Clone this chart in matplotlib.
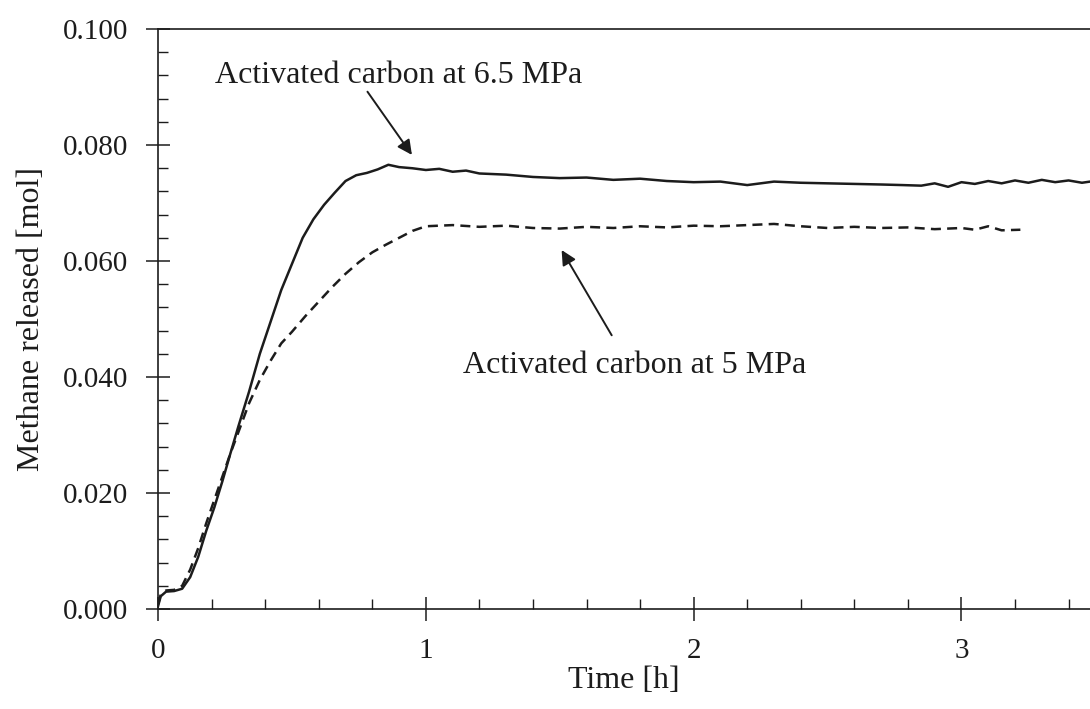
import matplotlib.pyplot as plt
from matplotlib.ticker import MultipleLocator, FormatStrFormatter

plt.rcParams['font.family'] = ['Liberation Serif', 'DejaVu Serif']

# 6.5 MPa run (solid)
t_65 = [0.0, 0.01, 0.03, 0.06, 0.09, 0.12, 0.15, 0.18, 0.21, 0.24, 0.27, 0.30,
        0.34, 0.38, 0.42, 0.46, 0.50, 0.54, 0.58, 0.62, 0.66, 0.70, 0.74, 0.78,
        0.82, 0.86, 0.90, 0.95, 1.00, 1.05, 1.10, 1.15, 1.20, 1.30, 1.40, 1.50,
        1.60, 1.70, 1.80, 1.90, 2.00, 2.10, 2.20, 2.30, 2.40, 2.50, 2.60, 2.70,
        2.78, 2.85, 2.90, 2.95, 3.00, 3.05, 3.10, 3.15, 3.20, 3.25, 3.30, 3.35,
        3.40, 3.45, 3.48]
m_65 = [0.0005, 0.0022, 0.0030, 0.0031, 0.0035, 0.0055, 0.0090, 0.0135, 0.0175, 0.0220, 0.0268, 0.0315,
        0.0375, 0.0440, 0.0495, 0.0550, 0.0595, 0.0640, 0.0672, 0.0697, 0.0718, 0.0738, 0.0748, 0.0752,
        0.0758, 0.0766, 0.0762, 0.0760, 0.0757, 0.0759, 0.0754, 0.0756, 0.0751, 0.0749, 0.0745, 0.0743,
        0.0744, 0.0740, 0.0742, 0.0738, 0.0736, 0.0737, 0.0731, 0.0737, 0.0735, 0.0734, 0.0733, 0.0732,
        0.0731, 0.0730, 0.0734, 0.0728, 0.0736, 0.0733, 0.0738, 0.0734, 0.0739, 0.0735, 0.0740, 0.0736,
        0.0739, 0.0735, 0.0737]

# 5 MPa run (dashed)
t_5 = [0.0, 0.01, 0.03, 0.06, 0.09, 0.12, 0.15, 0.18, 0.21, 0.24, 0.27, 0.30,
       0.34, 0.38, 0.42, 0.46, 0.50, 0.55, 0.60, 0.65, 0.70, 0.75, 0.80, 0.85,
       0.90, 0.95, 1.00, 1.10, 1.20, 1.30, 1.40, 1.50, 1.60, 1.70, 1.80, 1.90,
       2.00, 2.10, 2.20, 2.30, 2.40, 2.50, 2.60, 2.70, 2.80, 2.90, 3.00, 3.05,
       3.10, 3.15, 3.22]
m_5 = [0.0008, 0.0025, 0.0032, 0.0033, 0.0040, 0.0068, 0.0105, 0.0148, 0.0188, 0.0228, 0.0268, 0.0305,
       0.0355, 0.0395, 0.0428, 0.0458, 0.0478, 0.0505, 0.0530, 0.0555, 0.0578, 0.0598, 0.0615, 0.0628,
       0.0640, 0.0652, 0.0660, 0.0662, 0.0659, 0.0661, 0.0657, 0.0656, 0.0659, 0.0657, 0.0660, 0.0658,
       0.0661, 0.0660, 0.0662, 0.0664, 0.0660, 0.0657, 0.0659, 0.0657, 0.0658, 0.0655, 0.0657, 0.0654,
       0.0660, 0.0653, 0.0654]

label_65 = 'Activated carbon at 6.5 MPa'
label_5 = 'Activated carbon at 5 MPa'

ink = '#1c1c1c'

fig = plt.figure(figsize=(10.9, 7.09), dpi=100)
ax = fig.add_axes([0.145, 0.141, 0.855, 0.818])

ax.plot(t_65, m_65, color=ink, lw=1.8)
ax.plot(t_5, m_5, color=ink, lw=1.8, dashes=(4, 2.5))

ax.set_xlim(0, 3.48)
ax.set_ylim(0, 0.1)

ax.xaxis.set_major_locator(MultipleLocator(1))
ax.xaxis.set_minor_locator(MultipleLocator(0.2))
ax.yaxis.set_major_locator(MultipleLocator(0.02))
ax.yaxis.set_minor_locator(MultipleLocator(0.004))
ax.yaxis.set_major_formatter(FormatStrFormatter('%.3f'))

ax.tick_params(which='major', direction='inout', length=17, width=1.1, color=ink,
               labelsize=21, labelcolor=ink)
ax.tick_params(which='minor', direction='in', length=7, width=1.0, color=ink)
ax.tick_params(axis='y', which='major', pad=13)
ax.tick_params(axis='x', which='major', pad=12)

for side in ['left', 'bottom', 'top']:
    ax.spines[side].set_color(ink)
    ax.spines[side].set_linewidth(1.2)
ax.spines['right'].set_visible(False)

ax.set_xlabel('Time [h]', fontsize=23, color=ink, labelpad=2)
ax.set_ylabel('Methane released [mol]', fontsize=23, color=ink, labelpad=12)

# labels and arrows
ax.text(0.213, 0.0907, label_65, fontsize=23, color=ink, ha='left', va='baseline')
ax.annotate('', xy=(0.948, 0.0783), xytext=(0.782, 0.0892),
            arrowprops=dict(arrowstyle='-|>', color=ink, lw=1.4, mutation_scale=22,
                            shrinkA=0, shrinkB=0))
ax.text(1.138, 0.0407, label_5, fontsize=23, color=ink, ha='left', va='baseline')
ax.annotate('', xy=(1.507, 0.0619), xytext=(1.694, 0.0472),
            arrowprops=dict(arrowstyle='-|>', color=ink, lw=1.4, mutation_scale=22,
                            shrinkA=0, shrinkB=0))

fig.savefig('out.png', dpi=100)
